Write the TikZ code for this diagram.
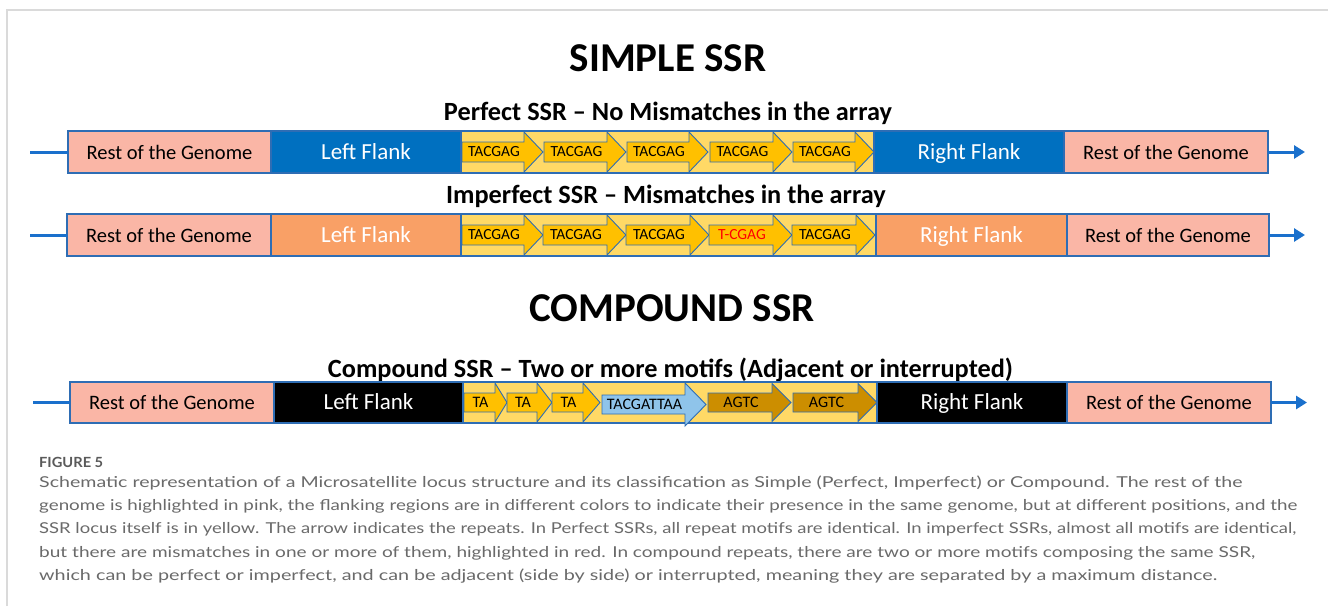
\documentclass[tikz,border=0pt]{standalone}
\usepackage{fontspec}
\setmainfont{Carlito}
\newfontfamily\capfont{Lato}
\usetikzlibrary{arrows.meta}
\definecolor{genome}{HTML}{FAB6A6}
\definecolor{flankblue}{HTML}{0070C0}
\definecolor{flankorange}{HTML}{F9A066}
\definecolor{ssryellow}{HTML}{FFD966}
\definecolor{motif}{HTML}{FFC000}
\definecolor{motifblue}{HTML}{8FC4EA}
\definecolor{motifgold}{HTML}{CC8E00}
\definecolor{edge}{HTML}{2E6DB4}
\definecolor{strand}{HTML}{1A70CC}
\definecolor{captext}{HTML}{6A6A6A}
\definecolor{caphead}{HTML}{5A5A5A}
\definecolor{framegray}{HTML}{DADADA}
\tikzset{
  box/.style={draw=edge, line width=1.1pt, inner sep=0pt, outer sep=0pt, anchor=west,
    minimum height=42pt, text height=18pt, text depth=4pt},
  genomebox/.style={box, fill=genome, text=black, font=\fontsize{20.5}{24}\selectfont},
  flankbox/.style={box, text=white, font=\fontsize{23}{26}\selectfont},
  ssrbox/.style={box, fill=ssryellow},
  motifline/.style={draw=edge, line width=0.9pt, line join=miter},
  motiftext/.style={inner sep=0pt, text=black},
  strandline/.style={draw=strand, line width=3pt},
  strandarrow/.style={strandline, -{Triangle[length=11pt,width=13pt]}},
  bigtitle/.style={anchor=base, font=\bfseries\fontsize{41}{45}\selectfont},
  subtitle/.style={anchor=base, font=\bfseries\fontsize{26.3}{30}\selectfont},
  capline/.style={anchor=base west, inner sep=0pt, text=captext, font=\capfont\fontsize{15}{18}\selectfont},
}
\newcommand\motifarrow[9]{%
  \draw[motifline, fill=#8] ({#2},{#5-#6}) -- ({#3},{#5-#6}) -- ({#3},{#5-#7}) -- ({#4},{#5})
    -- ({#3},{#5+#7}) -- ({#3},{#5+#6}) -- ({#2},{#5+#6}) -- cycle;
  \node[motiftext] (#1) at ({(#2+#3)/2+1},{#5}) {#9};}
\newcommand\capfit[2]{\resizebox{#1pt}{\height}{#2}}
\newcommand\seqA{\fontsize{15.5}{17}\selectfont}
\begin{document}
\begin{tikzpicture}[x=1pt,y=-1pt]
\fill[white] (0,0) rectangle (1328,606);
\useasboundingbox (0,0) rectangle (1328,606);
\draw[framegray, line width=2pt] (7,606) -- (7,10) -- (1328,10);

% titles
\node[bigtitle] (simple) at (668,71) {SIMPLE SSR};
\node[subtitle] (perftitle) at (668,120) {Perfect SSR – No Mismatches in the array};
\node[subtitle] (impftitle) at (666,203) {Imperfect SSR – Mismatches in the array};
\node[bigtitle] (compound) at (672,321) {COMPOUND SSR};
\node[subtitle] (comptitle) at (670.5,377) {Compound SSR – Two or more motifs (Adjacent or interrupted)};

% row 1: perfect
\node[genomebox, minimum width=203pt] (p1) at (68,152) {Rest of the Genome};
\node[flankbox, fill=flankblue, minimum width=190pt] (p2) at (271,152) {Left Flank};
\node[ssrbox, minimum width=413pt] (p3) at (461,152) {};
\node[flankbox, fill=flankblue, minimum width=190pt] (p4) at (874,152) {Right Flank};
\node[genomebox, minimum width=204pt] (p5) at (1064,152) {Rest of the Genome};
\coordinate (p0) at (30,152);
\coordinate (p6) at (1305,152);
\draw[strandline] (p0) -- (p1.west);
\draw[strandarrow] (p5.east) -- (p6);
\motifarrow{pm1}{462}{524}{543}{152}{10}{20}{motif}{\seqA TACGAG}
\motifarrow{pm2}{544}{607}{626}{152}{10}{20}{motif}{\seqA TACGAG}
\motifarrow{pm3}{627}{689}{708}{152}{10}{20}{motif}{\seqA TACGAG}
\motifarrow{pm4}{710}{773}{792}{152}{10}{20}{motif}{\seqA TACGAG}
\motifarrow{pm5}{793}{855}{874}{152}{10}{20}{motif}{\seqA TACGAG}

% row 2: imperfect
\node[genomebox, minimum width=204pt] (i1) at (67,235) {Rest of the Genome};
\node[flankbox, fill=flankorange, minimum width=190pt] (i2) at (271,235) {Left Flank};
\node[ssrbox, minimum width=415pt] (i3) at (461,235) {};
\node[flankbox, fill=flankorange, minimum width=191pt] (i4) at (876,235) {Right Flank};
\node[genomebox, minimum width=202pt] (i5) at (1067,235) {Rest of the Genome};
\coordinate (i0) at (30,235);
\coordinate (i6) at (1305,235);
\draw[strandline] (i0) -- (i1.west);
\draw[strandarrow] (i5.east) -- (i6);
\motifarrow{im1}{462}{524}{543}{235}{10}{20}{motif}{\seqA TACGAG}
\motifarrow{im2}{543}{607}{626}{235}{10}{20}{motif}{\seqA TACGAG}
\motifarrow{im3}{626}{690}{709}{235}{10}{20}{motif}{\seqA TACGAG}
\motifarrow{im4}{709}{773}{792}{235}{10}{20}{motif}{\seqA\color{red}T-CGAG}
\motifarrow{im5}{792}{856}{875}{235}{10}{20}{motif}{\seqA TACGAG}

% row 3: compound
\node[genomebox, minimum width=204pt, minimum height=41pt] (c1) at (70,402.5) {Rest of the Genome};
\node[flankbox, fill=black, minimum width=189pt, minimum height=41pt] (c2) at (274,402.5) {Left Flank};
\node[ssrbox, minimum width=414pt, minimum height=41pt] (c3) at (463,402.5) {};
\node[flankbox, fill=black, minimum width=190pt, minimum height=41pt] (c4) at (877,402.5) {Right Flank};
\node[genomebox, minimum width=204pt, minimum height=41pt] (c5) at (1067,402.5) {Rest of the Genome};
\coordinate (c0) at (33,402.5);
\coordinate (c6) at (1307,402.5);
\draw[strandline] (c0) -- (c1.west);
\draw[strandarrow] (c5.east) -- (c6);
\motifarrow{cm1}{464}{495}{507}{402.5}{9.5}{19.5}{motif}{\fontsize{16}{18}\selectfont TA}
\motifarrow{cm2}{507}{537}{552}{402.5}{9.5}{19.5}{motif}{\fontsize{16}{18}\selectfont TA}
\motifarrow{cm3}{552}{583}{600}{402.5}{9.5}{19.5}{motif}{\fontsize{16}{18}\selectfont TA}
\motifarrow{cm4}{602}{685}{706}{404.5}{9.5}{21.5}{motifblue}{\fontsize{16}{18}\selectfont TACGATTAA}
\motifarrow{cm5}{708}{772}{791}{402.5}{9.5}{19}{motifgold}{\fontsize{16}{18}\selectfont AGTC}
\motifarrow{cm6}{793}{858}{877}{402.5}{9.5}{19}{motifgold}{\fontsize{16}{18}\selectfont AGTC}

% caption
\node[capline, text=caphead, font=\capfont\bfseries\fontsize{14}{16}\selectfont] (fig) at (39,467) {\capfit{64}{FIGURE 5}};
\node[capline] (cap1) at (39,487) {\capfit{1203}{Schematic representation of a Microsatellite locus structure and its classification as Simple (Perfect, Imperfect) or Compound. The rest of the}};
\node[capline] (cap2) at (39,510) {\capfit{1258}{genome is highlighted in pink, the flanking regions are in different colors to indicate their presence in the same genome, but at different positions, and the}};
\node[capline] (cap3) at (39,533.5) {\capfit{1257}{SSR locus itself is in yellow. The arrow indicates the repeats. In Perfect SSRs, all repeat motifs are identical. In imperfect SSRs, almost all motifs are identical,}};
\node[capline] (cap4) at (39,557) {\capfit{1216}{but there are mismatches in one or more of them, highlighted in red. In compound repeats, there are two or more motifs composing the same SSR,}};
\node[capline] (cap5) at (39,580.5) {\capfit{1178}{which can be perfect or imperfect, and can be adjacent (side by side) or interrupted, meaning they are separated by a maximum distance.}};
\end{tikzpicture}
\end{document}
